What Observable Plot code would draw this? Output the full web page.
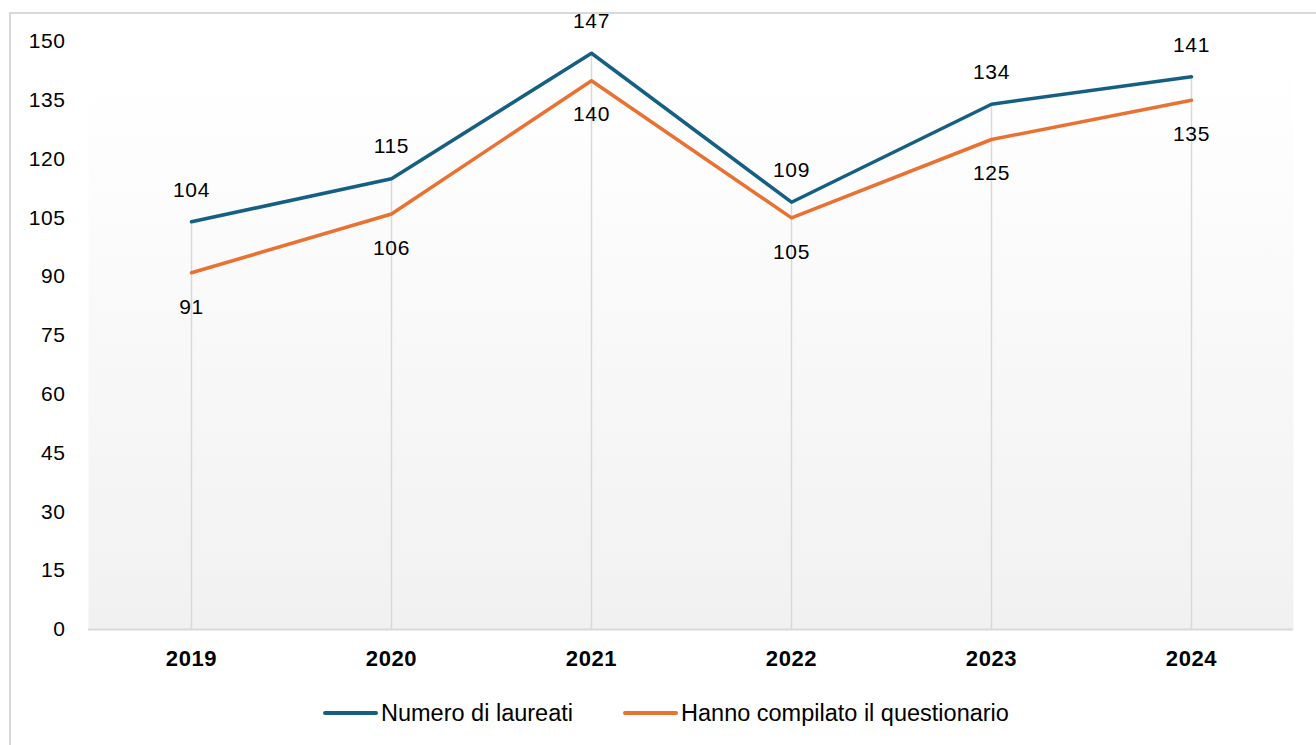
<!DOCTYPE html>
<html><head><meta charset="utf-8">
<script src="https://cdn.jsdelivr.net/npm/d3@7"></script>
<script src="https://cdn.jsdelivr.net/npm/@observablehq/plot@0.6"></script>
<style>
body{margin:0;background:#fff;width:1316px;height:745px;overflow:hidden;position:relative;font-family:"Liberation Sans",Arial,sans-serif;}
#border{position:absolute;left:9px;top:12px;width:1400px;height:800px;border:2px solid #d9d9d9;box-sizing:border-box;}
#chart{position:absolute;left:0;top:0;}
#chart svg text{letter-spacing:0.6px;}
#legend{position:absolute;top:699px;left:323px;display:flex;align-items:center;height:28px;font-family:"Liberation Sans",Arial,sans-serif;font-size:23.5px;color:#000;}
.item{display:flex;align-items:center;}
.sw{width:55px;height:4.5px;border-radius:2.5px;margin-right:3px;}
</style></head>
<body>
<div id="border"></div>
<div id="chart"></div>
<div id="legend"></div>
<script>
const years = ["2019","2020","2021","2022","2023","2024"];
const laureati = [104,115,147,109,134,141];
const compilato = [91,106,140,105,125,135];
const seriesNames = ["Numero di laureati","Hanno compilato il questionario"];
const seriesColors = ["#156082","#E97132"];
const yTicks = [0,15,30,45,60,75,90,105,120,135,150];

const rows = years.map((y,i)=>({year:y, a:laureati[i], b:compilato[i]}));
const long = [
  ...years.map((y,i)=>({year:y, value:laureati[i], series:seriesNames[0]})),
  ...years.map((y,i)=>({year:y, value:compilato[i], series:seriesNames[1]}))
];

const plot = Plot.plot({
  width:1316, height:680,
  marginLeft:88, marginRight:23, marginTop:41, marginBottom:51,
  style:{fontFamily:"'Liberation Sans',Arial,sans-serif", fontSize:"21px", color:"#000", background:"transparent"},
  x:{type:"point", domain:years, padding:0.5, label:null},
  y:{domain:[0,150], ticks:yTicks, label:null},
  color:{domain:seriesNames, range:seriesColors},
  marks:[
    Plot.frame({fill:"url(#bgGrad)", stroke:null}),
    Plot.ruleX(rows, {x:"year", y1:0, y2:"a", stroke:"#d9d9d9", strokeWidth:1.5}),
    Plot.ruleY([0], {stroke:"#d9d9d9", strokeWidth:2}),
    Plot.axisY({ticks:yTicks, tickSize:0, tickPadding:23, fontSize:21}),
    Plot.axisX({tickSize:0, tickPadding:21, fontSize:22, fontWeight:"bold"}),
    Plot.line(long, {x:"year", y:"value", stroke:"series", z:"series", strokeWidth:3.5, strokeLinecap:"round", strokeLinejoin:"round"}),
    Plot.text(rows, {x:"year", y:"a", text:d=>String(d.a), dy:-32, fontSize:21, fill:"#000"}),
    Plot.text(rows, {x:"year", y:"b", text:d=>String(d.b), dy:34, fontSize:21, fill:"#000"})
  ]
});
const ns="http://www.w3.org/2000/svg";
const defs=document.createElementNS(ns,"defs");
defs.innerHTML='<linearGradient id="bgGrad" x1="0" y1="0" x2="0" y2="1"><stop offset="0" stop-color="#ffffff"/><stop offset="0.13" stop-color="#fefefe"/><stop offset="1" stop-color="#f1f1f1"/></linearGradient>';
plot.insertBefore(defs, plot.firstChild);
document.getElementById("chart").appendChild(plot);

const leg=document.getElementById("legend");
seriesNames.forEach((n,i)=>{
  const it=document.createElement("div"); it.className="item";
  if(i>0) it.style.marginLeft="50px";
  const sw=document.createElement("div"); sw.className="sw"; sw.style.background=seriesColors[i];
  const t=document.createElement("span"); t.textContent=n;
  it.appendChild(sw); it.appendChild(t); leg.appendChild(it);
});
</script>
</body></html>
